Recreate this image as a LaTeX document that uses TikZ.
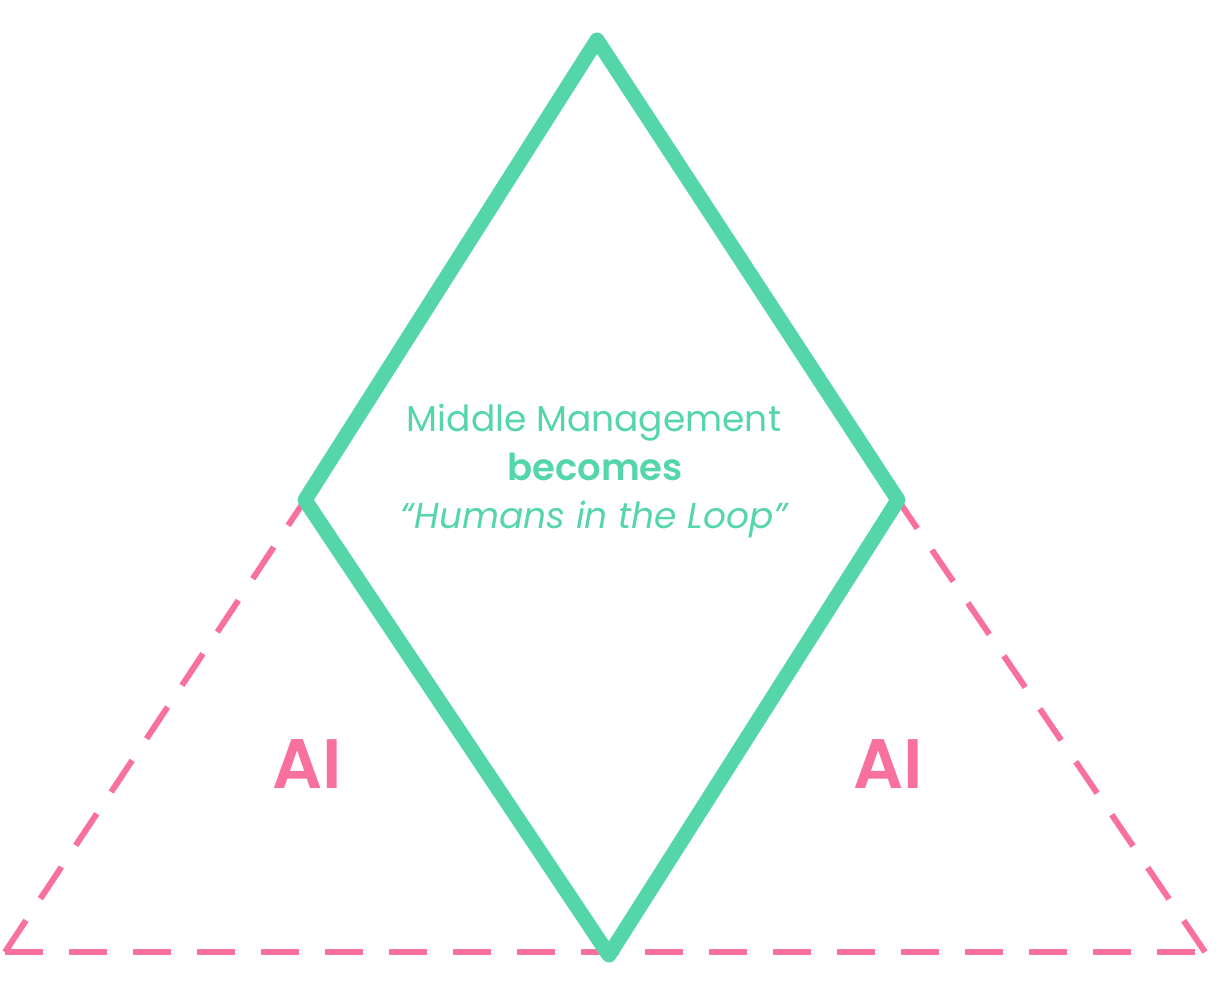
\documentclass[tikz,border=0pt]{standalone}
\usepackage{fontspec}
\setmainfont{Poppins}
\newfontfamily\pmed{Poppins SemiBold}
\definecolor{mgreen}{HTML}{55D6A8}
\definecolor{mpink}{HTML}{F7709F}
\begin{document}
\begin{tikzpicture}[x=1pt,y=-1pt,
  pinkline/.style={draw=mpink,line width=6pt,dash pattern=on 38pt off 26pt},
  greenline/.style={draw=mgreen,line width=15pt,line join=round,line cap=round},
  label/.style={text=mgreen,font=\fontsize{36}{44}\selectfont,align=center},
  ailabel/.style={text=mpink,font=\fontsize{70}{80}\pmed}]
\useasboundingbox (0,0) rectangle (1224,981);
% triangle corners
\coordinate (tl) at (5,952);
\coordinate (tr) at (1205,952);
% diamond corners
\coordinate (dt) at (597,40);
\coordinate (dl) at (305,500);
\coordinate (dr) at (898,500);
\coordinate (db) at (609,955);
\draw[pinkline] (tl) -- (tr);
\draw[pinkline] (tl) -- (dl);
\draw[pinkline] (tr) -- (dr);
\draw[greenline] (dt) -- (dr) -- (db) -- (dl) -- cycle;
\node[label,anchor=base] (t1) at (594,432) {Middle Management};
\node[label,anchor=base,font=\fontsize{37}{44}\pmed] (t2) at (595,480) {becomes};
\node[label,anchor=base,font=\fontsize{36}{44}\selectfont\itshape] (t3) at (594,528) {“Humans in the Loop”};
\node[ailabel,anchor=base] (ai1) at (307,788) {AI};
\node[ailabel,anchor=base] (ai2) at (888,788) {AI};
\end{tikzpicture}
\end{document}
